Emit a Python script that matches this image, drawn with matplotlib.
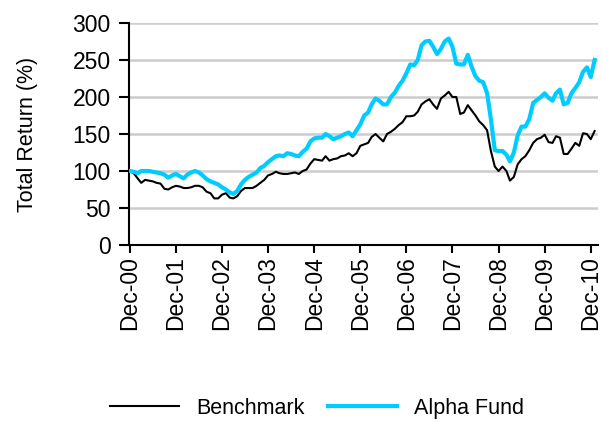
import matplotlib
matplotlib.use("Agg")
import matplotlib.pyplot as plt
import pandas as pd

alpha_fund = [100, 99, 97, 100, 100, 100, 99, 98, 97, 95, 91, 94, 96, 93, 90, 95, 98, 100, 98, 94,
              89, 86, 84, 82, 78, 75, 71, 69, 73, 82, 88, 92, 95, 98, 104, 107, 112, 116, 120, 121,
              120, 124, 123, 121, 120, 126, 130, 140, 144, 145, 145, 150, 147, 143, 145, 147, 150, 152, 147, 155,
              163, 175, 179, 190, 198, 195, 190, 190, 200, 206, 215, 222, 232, 244, 243, 250, 270, 275, 276, 268,
              258, 265, 275, 279, 268, 245, 244, 244, 257, 241, 228, 222, 220, 205, 170, 128, 127, 127, 122, 113,
              125, 148, 160, 160, 170, 192, 196, 200, 205, 199, 195, 205, 210, 190, 192, 205, 212, 220, 234, 240,
              227, 250]
benchmark = [100, 97, 90, 84, 88, 87, 86, 84, 83, 76, 75, 78, 80, 79, 77, 77, 78, 80, 80, 78,
             72, 70, 63, 63, 68, 70, 64, 63, 66, 73, 77, 77, 77, 80, 84, 88, 94, 96, 99, 97,
             96, 96, 97, 98, 96, 100, 102, 110, 116, 115, 114, 120, 114, 116, 117, 120, 121, 124, 120, 124,
             134, 136, 138, 146, 150, 145, 140, 150, 153, 157, 162, 166, 174, 174, 175, 180, 190, 194, 197, 190,
             184, 198, 202, 207, 200, 200, 177, 179, 189, 182, 175, 167, 162, 155, 127, 106, 100, 106, 100, 87,
             92, 109, 116, 120, 128, 138, 143, 145, 149, 139, 138, 147, 145, 123, 123, 130, 138, 134, 151, 150,
             143, 154]
dates = pd.date_range("2000-12-01", periods=len(benchmark), freq="MS")
tick_dates = pd.date_range("2000-12-01", "2010-12-01", freq="12MS")
tick_labels = [d.strftime("Dec-%y") for d in tick_dates]
y_ticks = [0, 50, 100, 150, 200, 250, 300]

plt.rcParams['font.family'] = ['Liberation Sans Narrow', 'Liberation Sans', 'DejaVu Sans']

fig = plt.figure(figsize=(6.02, 4.22), dpi=100)
ax = fig.add_axes([0.214, 0.4194, 0.779, 0.5261])

ax.plot(dates, benchmark, color="black", lw=1.5, label="Benchmark", zorder=3)
ax.plot(dates, alpha_fund, color="#00CCFF", lw=3, label="Alpha Fund", zorder=4)

ax.set_ylim(0, 300)
ax.set_yticks(y_ticks)
ax.set_xlim(dates[0] - pd.Timedelta(days=8), dates[-1] + pd.Timedelta(days=25))
ax.set_xticks(tick_dates)
ax.set_xticklabels(tick_labels, rotation=90, fontsize=16.5)
ax.tick_params(axis='y', labelsize=16.5, length=7, width=1.5, direction='out', pad=6)
ax.tick_params(axis='x', length=6, width=1.5, direction='out', pad=2)
ax.grid(axis='y', color="#CCCCCC", lw=1.8, zorder=0)
ax.set_axisbelow(True)
for s in ['top', 'right']:
    ax.spines[s].set_visible(False)
for s in ['left', 'bottom']:
    ax.spines[s].set_linewidth(1.5)
ax.set_ylabel("Total Return (%)", fontsize=15.5)
ax.yaxis.set_label_coords(-0.194, 0.5)

fig.legend(loc="center", bbox_to_anchor=(0.527, 0.032), ncol=2, frameon=False,
           fontsize=15.5, handlelength=3.2, columnspacing=1.1, handletextpad=0.8)

fig.savefig("out.png", dpi=100)
